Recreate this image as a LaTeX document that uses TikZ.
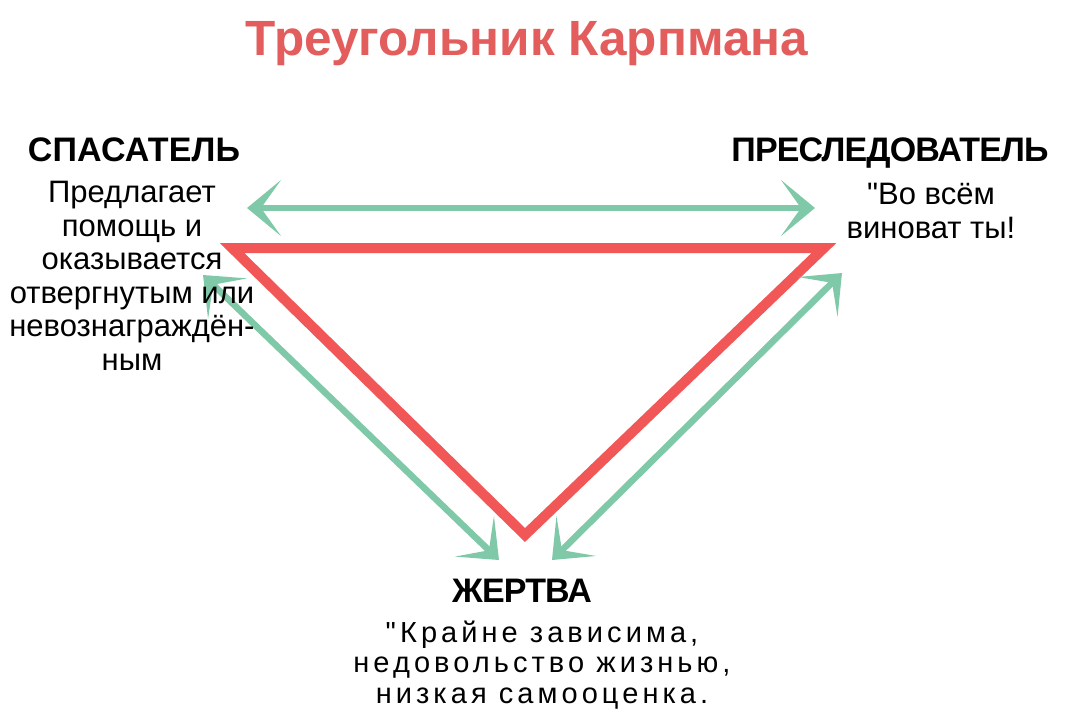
\documentclass[tikz,border=0pt]{standalone}
\usepackage{fontspec}
\setmainfont{Liberation Sans}[Ligatures=TeXOff]
\usetikzlibrary{arrows.meta}
\definecolor{kred}{HTML}{F25757}
\definecolor{ktitle}{HTML}{E35D5D}
\definecolor{kgreen}{HTML}{80C9A8}
\begin{document}
\begin{tikzpicture}[x=1pt,y=-1pt,
  titlestyle/.style={text=ktitle, font=\fontsize{49.5}{52}\selectfont\bfseries, inner sep=0pt},
  heading/.style={font=\fontsize{34}{36}\selectfont\bfseries\addfontfeature{LetterSpace=-2.5}, inner sep=0pt},
  headingwide/.style={font=\fontsize{34}{36}\selectfont\bfseries\addfontfeature{LetterSpace=0.5}, inner sep=0pt},
  body/.style={font=\fontsize{31}{33.5}\selectfont, align=center, inner sep=0pt},
  bodywide/.style={font=\fontsize{29}{30.5}\selectfont\addfontfeature{LetterSpace=14}, align=center, inner sep=0pt},
  garrow/.style={draw=kgreen, line width=6.5pt,
    {Stealth[length=34pt,width=56pt,inset=20pt]}-{Stealth[length=34pt,width=56pt,inset=20pt]}},
  tri/.style={draw=kred, line width=10pt, line join=miter}
]
\useasboundingbox (0,0) rectangle (1080,726);
\fill[white] (0,0) rectangle (1080,726);

\node[titlestyle, anchor=base] (title) at (527,55) {Треугольник Карпмана};

\coordinate (tl) at (232,248);
\coordinate (tr) at (824,248);
\coordinate (bt) at (525,535);
\draw[tri] (tl) -- (tr) -- (bt) -- cycle;

\coordinate (h1) at (247,208);
\coordinate (h2) at (815,208);
\coordinate (l1) at (203,275);
\coordinate (l2) at (499,560);
\coordinate (r1) at (552,560);
\coordinate (r2) at (842,273);
\draw[garrow] (h1) -- (h2);
\draw[garrow] (l1) -- (l2);
\draw[garrow] (r1) -- (r2);

\node[headingwide, anchor=base] (resc) at (134,161) {СПАСАТЕЛЬ};
\node[body, anchor=base] (resctxt) at (132,370) {Предлагает\\помощь и\\оказывается\\отвергнутым или\\невознаграждён-\\ным};

\node[heading, anchor=base] (pers) at (890,161) {ПРЕСЛЕДОВАТЕЛЬ};
\node[body, anchor=base] (perstxt) at (931,238) {"Во всём\\виноват ты!};

\node[heading, anchor=base] (vict) at (522,602) {ЖЕРТВА};
\node[bodywide, anchor=base] (victtxt) at (542,703) {"Крайне зависима,\\недовольство жизнью,\\низкая самооценка.};
\end{tikzpicture}
\end{document}
